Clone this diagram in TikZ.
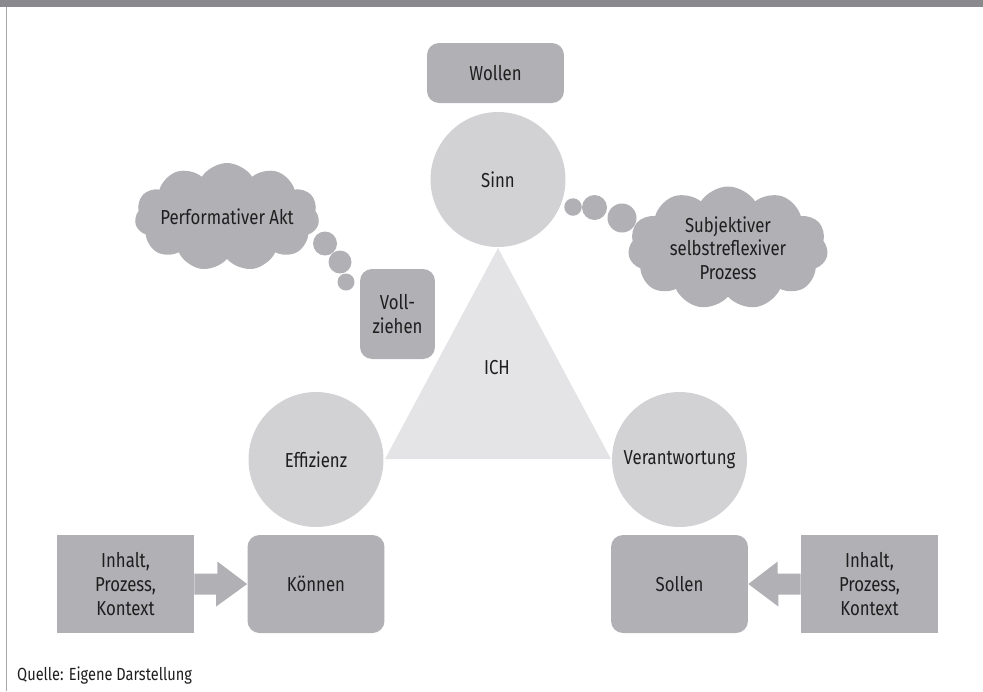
\documentclass[tikz,border=0pt]{standalone}
\usepackage{fontspec}
\setmainfont{Fira Sans}[FakeStretch=0.83]
\usepackage{xcolor}
\usetikzlibrary{shapes.symbols,calc}

\definecolor{bargray}{HTML}{8A8A8E}
\definecolor{boxgray}{HTML}{B1B1B5}
\definecolor{ringgray}{HTML}{D2D2D4}
\definecolor{trigray}{HTML}{E4E4E6}
\definecolor{textgray}{HTML}{1E1E1E}

\tikzset{
  txt/.style={text=textgray, font=\fontsize{11.5}{13.5}\selectfont, align=center},
  softbox/.style={txt, fill=boxgray, rounded corners=0.24cm, minimum width=2.74cm, minimum height=1.96cm},
  hardbox/.style={txt, fill=boxgray, minimum width=2.74cm, minimum height=1.96cm},
  ring/.style={txt, circle, fill=ringgray, minimum size=2.7cm, inner sep=0pt},
  thought/.style={txt, cloud, cloud puffs=11, cloud puff arc=115, cloud ignores aspect, fill=boxgray, inner sep=0pt},
  bubble/.style={circle, fill=boxgray, inner sep=0pt}
}

\begin{document}
\begin{tikzpicture}[x=0.02cm, y=-0.02cm]
        \useasboundingbox (0,0) rectangle (983,691);
        \fill[bargray] (0,0) rectangle (983,7);
        \draw[gray!70, line width=0.6pt] (6.5,7) -- (6.5,691);

        % triangle in the middle
        \coordinate (top) at (498,248);
        \coordinate (left) at (385,459);
        \coordinate (right) at (611,459);
        \fill[trigray] (top) -- (left) -- (right) -- cycle;
        \node[txt] (ich) at (497,368) {ICH};

        % circles
        \node[ring] (sinn) at (498,179.5) {Sinn};
        \node[ring] (effizienz) at (316,459.5) {Effizienz};
        \node[ring] (verantw) at (679.5,459.5) {Verantwortung};

        % boxes
        \node[softbox, minimum height=1.2cm] (wollen) at (495.5,73) {Wollen};
        \node[softbox, minimum width=1.5cm, minimum height=1.8cm] (vollz) at (397.5,314) {Voll-\\ziehen};
        \node[softbox] (koennen) at (316,584) {Können};
        \node[softbox] (sollen) at (679.5,584) {Sollen};
        \node[hardbox] (inhaltL) at (125.5,584) {Inhalt,\\Prozess,\\Kontext};
        \node[hardbox] (inhaltR) at (869.5,584) {Inhalt,\\Prozess,\\Kontext};

        % block arrows
        \fill[boxgray] ($(inhaltL.east)+(0,-10.5)$) -- ++(23,0) -- ++(0,-12)
            -- (koennen.west) -- ++(-31,22.5) -- ++(0,-12) -- ($(inhaltL.east)+(0,10.5)$) -- cycle;
        \fill[boxgray] ($(inhaltR.west)+(0,-10.5)$) -- ++(-23,0) -- ++(0,-12)
            -- (sollen.west -| sollen.east) -- ++(30,22.5) -- ++(0,-12) -- ($(inhaltR.west)+(0,10.5)$) -- cycle;

        % thought clouds
        \node[thought, minimum width=3.62cm, minimum height=2.16cm] (perfakt) at (227,217) {Performativer Akt};
        \node[bubble, minimum size=0.48cm] (pb1) at (325,243.5) {};
        \node[bubble, minimum size=0.46cm] (pb2) at (340,262) {};
        \node[bubble, minimum size=0.34cm] (pb3) at (346,282) {};

        \node[thought, minimum width=4.0cm, minimum height=2.46cm] (subjekt) at (728,248) {Subjektiver\\selbstreflexiver\\Prozess};
        \node[bubble, minimum size=0.35cm] (sb1) at (573,207) {};
        \node[bubble, minimum size=0.5cm] (sb2) at (594.5,207.5) {};
        \node[bubble, minimum size=0.58cm] (sb3) at (622,218) {};

        \node[txt, anchor=west, font=\fontsize{10}{12}\selectfont] (quelle) at (11,675) {Quelle: Eigene Darstellung};
\end{tikzpicture}
\end{document}
